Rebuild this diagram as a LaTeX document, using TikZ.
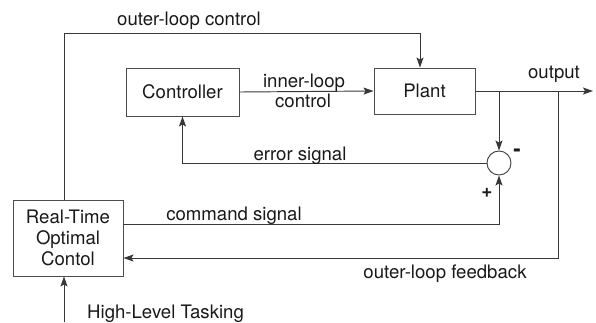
\documentclass[tikz,border=0pt]{standalone}
\usepackage{fontspec}
\setmainfont{TeX Gyre Heros}
\usetikzlibrary{arrows.meta}
\begin{document}
\begin{tikzpicture}[x=1bp,y=-1bp,
  wire/.style={draw=black!78,line width=0.95bp},
  arr/.style={wire,-{Stealth[length=10bp,width=7bp,inset=2bp]}},
  blk/.style={draw=black!70,line width=0.95bp,rectangle,inner sep=0pt,align=center,text=black!90},
  lbl/.style={anchor=base,inner sep=0pt,text=black!90},
  every node/.append style={font=\fontsize{18.6bp}{21bp}\selectfont}]
\useasboundingbox (0,0) rectangle (596,322);

% blocks
\node[blk,minimum width=113bp,minimum height=48bp] (ctrl) at (182.5,92) {Controller};
\node[blk,minimum width=101bp,minimum height=46bp] (plant) at (424.5,91) {Plant};
\node[blk,minimum width=110bp,minimum height=76bp] (rto) at (68,238) {Real-Time\\Optimal\\Contol};
\node[draw=black!75,line width=0.95bp,circle,minimum size=24bp,inner sep=0pt] (sum) at (499,163) {};

% junctions and free ends
\coordinate (out) at (593,91);
\coordinate (br) at (499,91);
\coordinate (fb) at (558,91);
\coordinate (olc) at (420,33);
\coordinate (hl) at (64,322);

% signal paths
\draw[arr] (ctrl.east) -- (plant.west);
\draw[arr] (plant.east) -- (out);
\draw[arr] (br) -- (sum.north);
\draw[arr] (fb) |- ([yshift=-20bp]rto.east);
\draw[arr] ([yshift=14bp]rto.east) -| (sum.south);
\draw[arr] (sum.west) -| (ctrl.south);
\draw[arr] ([xshift=-4bp]rto.north) |- (olc) -- (olc |- plant.north);
\draw[arr] (hl) -- (hl |- rto.south);

% labels
\node[lbl] (lolc) at (189,25) {outer-loop control};
\node[lbl] (lin1) at (304,87) {inner-loop};
\node[lbl] (lin2) at (303,107) {control};
\node[lbl] (lout) at (554,78) {output};
\node[lbl] (lerr) at (300,160) {error signal};
\node[lbl] (lcmd) at (234,220) {command signal};
\node[lbl] (lfb) at (445,278) {outer-loop feedback};
\node[lbl,anchor=base west] (lhl) at (87,318) {High-Level Tasking};
\node[lbl,font=\fontsize{22bp}{22bp}\selectfont\bfseries] (lminus) at (517,156) {-};
\node[lbl,font=\fontsize{19bp}{19bp}\selectfont\bfseries] (lplus) at (487,197) {+};
\end{tikzpicture}
\end{document}
